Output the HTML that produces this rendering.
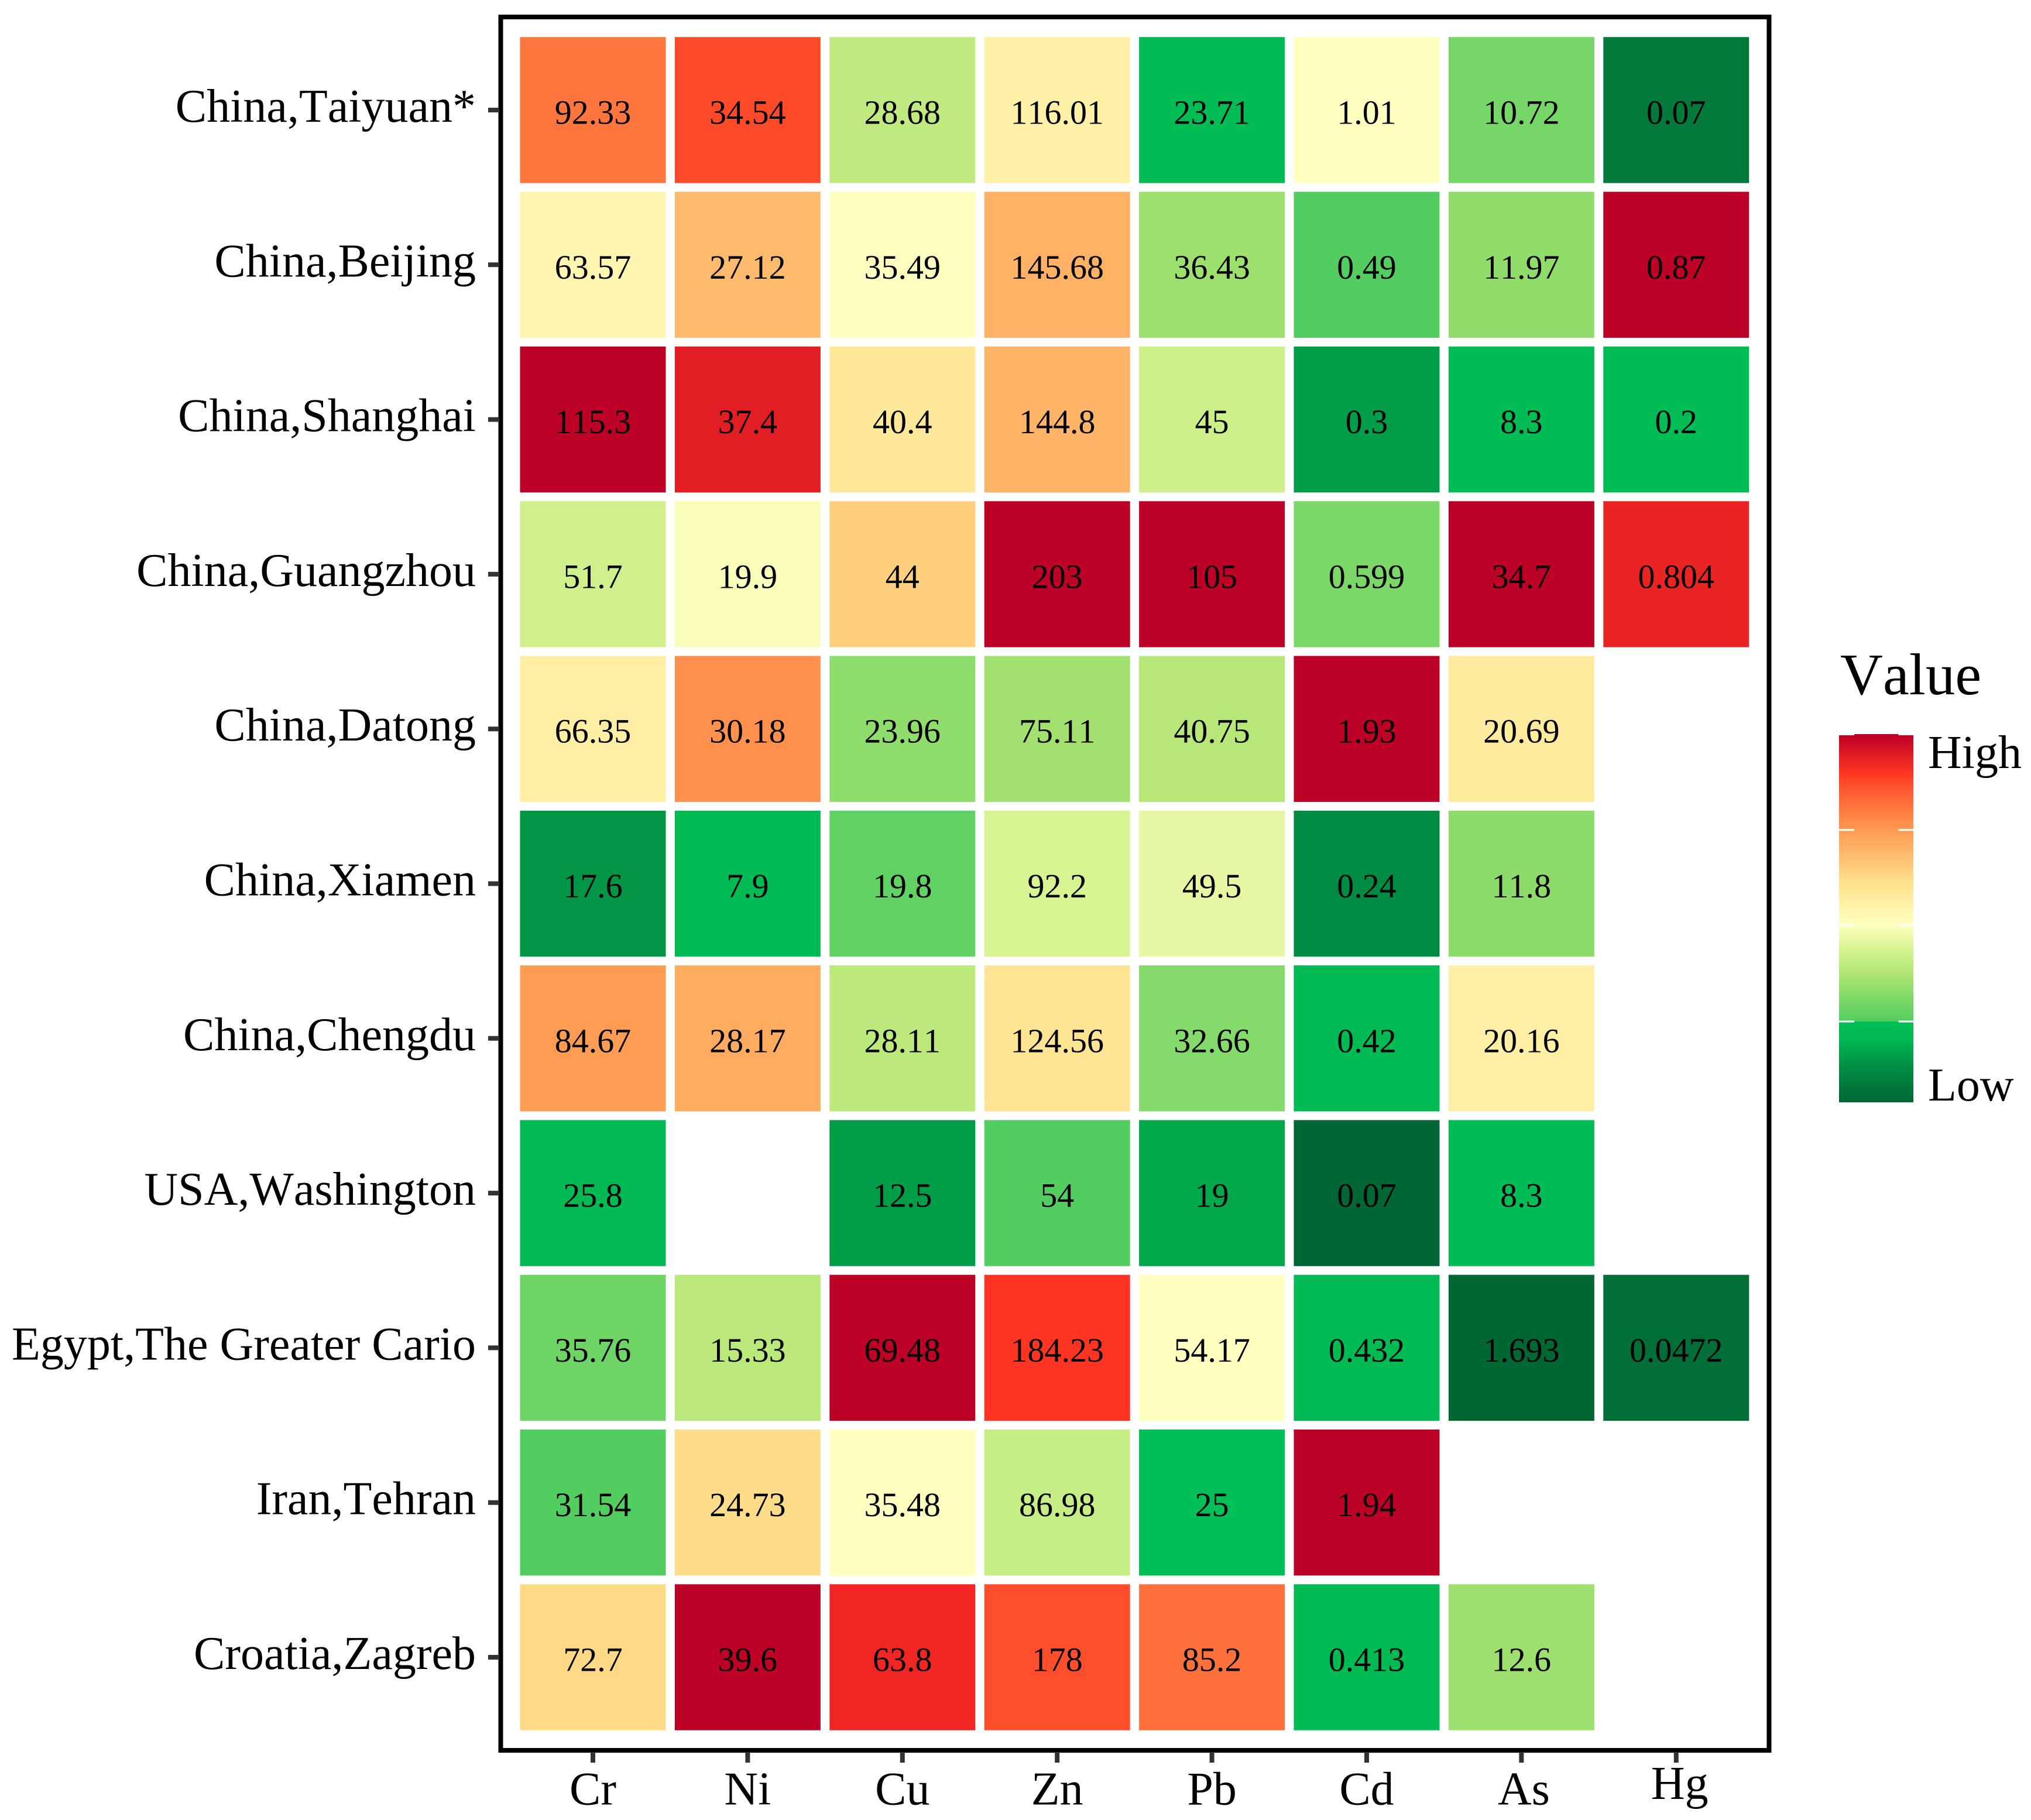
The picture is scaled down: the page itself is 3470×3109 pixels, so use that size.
<!DOCTYPE html>
<html lang="en">
<head>
<meta charset="utf-8">
<title>Heavy metal concentrations by city</title>
<style>
html,body{margin:0;padding:0;background:#fff;}
svg{display:block;}
text{font-family:"Liberation Serif",serif;fill:#000;font-kerning:none;}
</style>
</head>
<body>
<svg id="chart" xmlns="http://www.w3.org/2000/svg" width="3470" height="3109" viewBox="0 0 3470 3109"></svg>
<script>
const cities = ["China,Taiyuan*","China,Beijing","China,Shanghai","China,Guangzhou","China,Datong","China,Xiamen","China,Chengdu","USA,Washington","Egypt,The Greater Cario","Iran,Tehran","Croatia,Zagreb"];
const elements = ["Cr","Ni","Cu","Zn","Pb","Cd","As","Hg"];

const crValues = [92.33,63.57,115.3,51.7,66.35,17.6,84.67,25.8,35.76,31.54,72.7];
const niValues = [34.54,27.12,37.4,19.9,30.18,7.9,28.17,null,15.33,24.73,39.6];
const cuValues = [28.68,35.49,40.4,44,23.96,19.8,28.11,12.5,69.48,35.48,63.8];
const znValues = [116.01,145.68,144.8,203,75.11,92.2,124.56,54,184.23,86.98,178];
const pbValues = [23.71,36.43,45,105,40.75,49.5,32.66,19,54.17,25,85.2];
const cdValues = [1.01,0.49,0.3,0.599,1.93,0.24,0.42,0.07,0.432,1.94,0.413];
const asValues = [10.72,11.97,8.3,34.7,20.69,11.8,20.16,8.3,1.693,null,12.6];
const hgValues = [0.07,0.87,0.2,0.804,null,null,null,null,0.0472,null,null];

/* Per-element value breaks for the colour scale: low, lower, middle, upper, high */
const crBreaks = [3.7,31.5,60,85,115.3];
const niBreaks = [0,9,20.3,29.5,39.6];
const cuBreaks = [5,18.5,35.5,50,69.48];
const znBreaks = [10,53.5,105,155,203];
const pbBreaks = [8,25.1,54,78,105];
const cdBreaks = [0.07,0.485,1.01,1.5,1.93];
const asBreaks = [1.6,9,18,27,34.7];
const hgBreaks = [0.03,0.22,0.42,0.62,0.87];

/* Legend labels and the colour ramp (position along the ramp, colour) */
const legendTitle = "Value";
const legendLabels = ["High","Low"];
const rampStops = [0,0.09,0.17,0.22,0.2201,0.35,0.42,0.483,0.6,0.742,0.85,0.9,1];
const rampColors = ["#006633","#008b42","#00b852","#00bf56","#52cd60","#b0e572","#d8f393","#ffffc0","#ffe08c","#ff9a52","#ff5a30","#ff3322","#bd0026"];

const allValues = [crValues,niValues,cuValues,znValues,pbValues,cdValues,asValues,hgValues];
const allBreaks = [crBreaks,niBreaks,cuBreaks,znBreaks,pbBreaks,cdBreaks,asBreaks,hgBreaks];
const breakLevels = [0,0.22,0.483,0.742,1];

const svg = document.getElementById('chart');
const NS = 'http://www.w3.org/2000/svg';
function make(tag, attrs, text){
  const el = document.createElementNS(NS, tag);
  for (const k in attrs) el.setAttribute(k, attrs[k]);
  if (text !== undefined) el.textContent = text;
  svg.appendChild(el);
  return el;
}

/* Axis functions */
const plot = {firstCol:1013, firstRow:188, colStep:264.4, rowStep:264.3, cellW:249, cellH:249.4};
function xCenter(i){ return plot.firstCol + i * plot.colStep; }
function yCenter(i){ return plot.firstRow + i * plot.rowStep; }

function hexToRgb(h){ return [1,3,5].map(function(p){ return parseInt(h.substr(p,2),16); }); }
function rampColor(t){
  t = Math.max(0, Math.min(1, t));
  let i = 0;
  while (i < rampStops.length - 2 && t >= rampStops[i+1]) i++;
  const f = (t - rampStops[i]) / (rampStops[i+1] - rampStops[i]);
  const a = hexToRgb(rampColors[i]), b = hexToRgb(rampColors[i+1]);
  const c = a.map(function(v,k){ return Math.round(v + (b[k]-v) * Math.min(1,f)); });
  return 'rgb(' + c.join(',') + ')';
}
function valueToRamp(v, br){
  if (v <= br[0]) return 0;
  for (let i = 0; i < br.length - 1; i++){
    if (v < br[i+1]) return breakLevels[i] + (breakLevels[i+1]-breakLevels[i]) * (v-br[i]) / (br[i+1]-br[i]);
  }
  return 1;
}

/* Cells */
elements.forEach(function(name, c){
  allValues[c].forEach(function(v, r){
    if (v === null) return;
    const cx = xCenter(c), cy = yCenter(r);
    const rect = make('rect', {x:cx-plot.cellW/2, y:cy-plot.cellH/2, width:plot.cellW, height:plot.cellH, fill:rampColor(valueToRamp(v, allBreaks[c]))});
    
    
    const label = make('text', {x:cx, y:cy+23.5, 'text-anchor':'middle', 'font-size':58}, String(v));
    
    
  });
});

/* Panel frame */
const frame = make('rect', {x:855.5, y:29, width:2167, height:2961, fill:'none', stroke:'#000', 'stroke-width':8});



/* Y axis */
cities.forEach(function(name, r){
  const y = yCenter(r);
  const tick = make('line', {x1:834, x2:853, y1:y, y2:y, stroke:'#333', 'stroke-width':8});
  
  
  const label = make('text', {x:813, y:y+20, 'text-anchor':'end', 'font-size':80}, name);
  
  
});

/* X axis */
elements.forEach(function(name, c){
  const x = xCenter(c);
  const tick = make('line', {x1:x, x2:x, y1:2993, y2:3011, stroke:'#333', 'stroke-width':8});
  
  
  const isLast = c === elements.length - 1;
  const dx = isLast ? 6 : (c === elements.length - 2 ? 4 : 0);
  const label = make('text', {x:x+dx, y:isLast ? 3073 : 3082.5, 'text-anchor':'middle', 'font-size':80}, name);
  
  
});

/* Legend */
const defs = make('defs', {});
const grad = document.createElementNS(NS, 'linearGradient');
grad.setAttribute('id', 'rampGradient');
grad.setAttribute('x1', '0');
grad.setAttribute('y1', '1');
grad.setAttribute('x2', '0');
grad.setAttribute('y2', '0');
rampStops.forEach(function(s, i){
  const st = document.createElementNS(NS, 'stop');
  st.setAttribute('offset', s);
  st.setAttribute('stop-color', rampColors[i]);
  grad.appendChild(st);
});
defs.appendChild(grad);

const title = make('text', {x:3144, y:1186, 'font-size':101}, legendTitle);



const barTop = make('rect', {x:3168, y:1254, width:75.5, height:3, fill:rampColors[rampColors.length-1]});



const bar = make('rect', {x:3142, y:1256, width:127, height:627, fill:'url(#rampGradient)'});



function legendY(t){ return 1883 - 627 * t; }
breakLevels.slice(1,4).forEach(function(t){
  const y = legendY(t);
  const left = make('line', {x1:3142, x2:3168, y1:y, y2:y, stroke:'#fff', 'stroke-width':3});
  
  
  const right = make('line', {x1:3243.5, x2:3269, y1:y, y2:y, stroke:'#fff', 'stroke-width':3});
  
  
});

const high = make('text', {x:3294, y:1312, 'font-size':80}, legendLabels[0]);


const low = make('text', {x:3294, y:1880, 'font-size':80}, legendLabels[1]);


</script>
</body>
</html>
